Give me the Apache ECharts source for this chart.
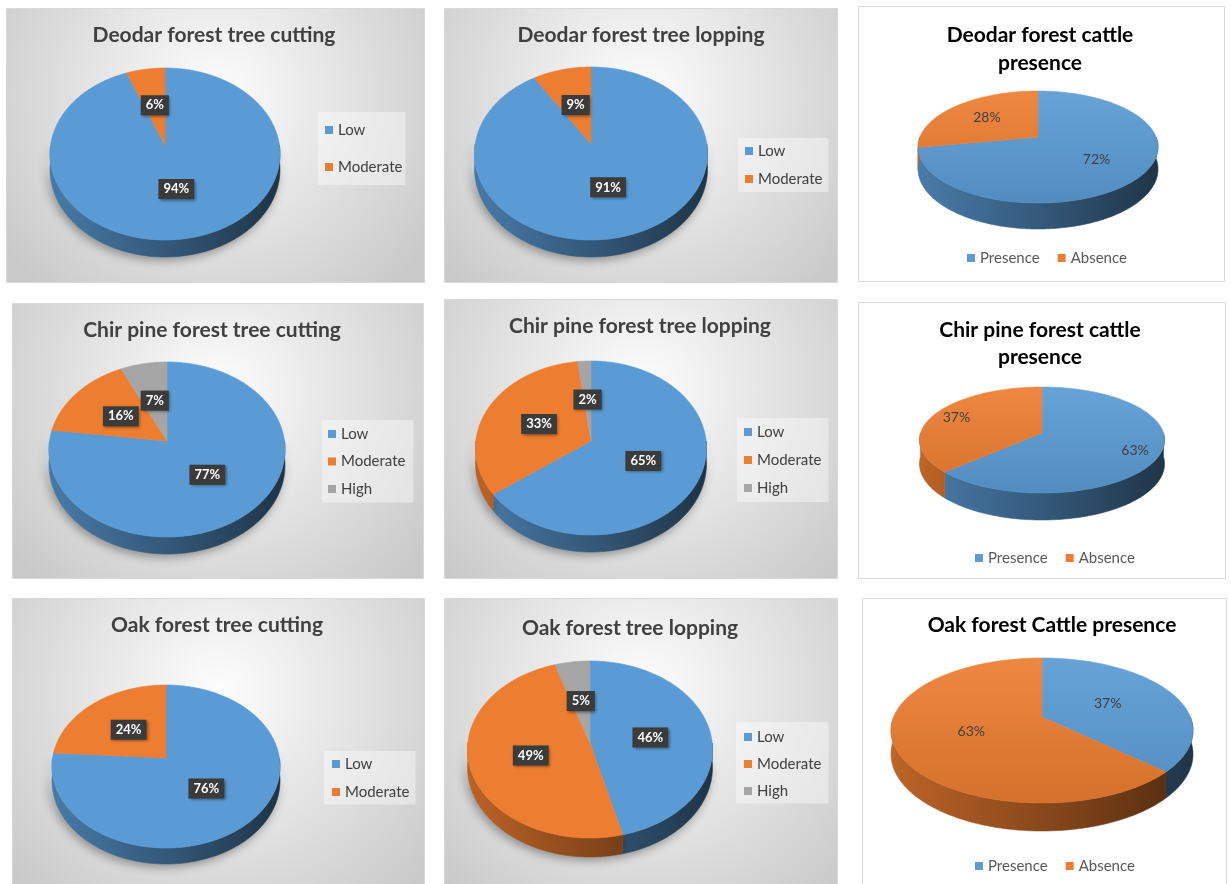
<!DOCTYPE html>
<html>
<head>
<meta charset="utf-8">
<script src="https://cdn.jsdelivr.net/npm/echarts@6/dist/echarts.min.js"></script>
<style>
  html, body { margin: 0; padding: 0; background: #ffffff; }
  #chart { width: 1231px; height: 884px; }
</style>
</head>
<body>
<div id="chart"></div>
<script>
// ---- data ----
const severityLevels = ['Low', 'Moderate', 'High'];
const cattleStatus = ['Presence', 'Absence'];

const deodarCutting = [94, 6];
const deodarLopping = [91, 9];
const deodarCattle = [72, 28];
const chirCutting = [77, 16, 7];
const chirLopping = [65, 33, 2];
const chirCattle = [63, 37];
const oakCutting = [76, 24];
const oakLopping = [46, 49, 5];
const oakCattle = [37, 63];

const chartTitles = [
  'Deodar forest tree cutting', 'Deodar forest tree lopping', 'Deodar forest cattle\npresence',
  'Chir pine forest tree cutting', 'Chir pine forest tree lopping', 'Chir pine forest cattle\npresence',
  'Oak forest tree cutting', 'Oak forest tree lopping', 'Oak forest Cattle presence'
];

// ---- styling ----
const categoryColors = {
  Low: '#5b9bd5', Moderate: '#ed7d31', High: '#a5a5a5',
  Presence: '#5b9bd5', Absence: '#ed7d31'
};
const FONT = 'Lato, "Open Sans", sans-serif';

// ---- layout of the nine panels ----
const panels = [
  { values: deodarCutting, names: severityLevels, shaded: true, box: [6, 8, 418, 274],
    titleX: 214, titleY: 22, lineH: 26,
    pie: { ax: 165, ay: 145, rx: 115, far: 77, near: 95, depth: 17, labelR: 0.5 },
    legend: { left: 318, top: 112, gap: 22, pad: [10.5, 3, 10.5, 7] } },
  { values: deodarLopping, names: severityLevels, shaded: true, box: [444, 8, 393, 274],
    titleX: 641, titleY: 22, lineH: 26,
    pie: { ax: 591, ay: 144, rx: 116.5, far: 77, near: 96, depth: 17, labelR: 0.5 },
    legend: { left: 738, top: 138, gap: 13, pad: [5.5, 6, 5.5, 7] } },
  { values: deodarCattle, names: cattleStatus, shaded: false, box: [858, 6, 366, 275],
    titleX: 1040, titleY: 21, lineH: 28,
    pie: { ax: 1038, ay: 137, rx: 120, far: 46, near: 66, depth: 26, labelR: 0.6 },
    legend: { left: 967, top: 250.5, gap: 18 } },
  { values: chirCutting, names: severityLevels, shaded: true, box: [12, 303, 411, 275],
    titleX: 212, titleY: 317, lineH: 26,
    pie: { ax: 167, ay: 441, rx: 118, far: 79, near: 96, depth: 17, labelR: 0.5 },
    legend: { left: 322, top: 420, gap: 12.5, pad: [6.5, 8, 6, 6] } },
  { values: chirLopping, names: severityLevels, shaded: true, box: [444, 299, 393, 279],
    titleX: 640, titleY: 313, lineH: 26,
    pie: { ax: 591, ay: 441, rx: 115.5, far: 80, near: 94, depth: 17, labelR: 0.5 },
    legend: { left: 737, top: 418, gap: 13, pad: [6.5, 7, 6.5, 7] } },
  { values: chirCattle, names: cattleStatus, shaded: false, box: [858, 302, 367, 276],
    titleX: 1040, titleY: 317, lineH: 27,
    pie: { ax: 1042, ay: 433, rx: 122.5, far: 46, near: 60, depth: 27, labelR: 0.8 },
    legend: { left: 975, top: 550.5, gap: 18 } },
  { values: oakCutting, names: severityLevels, shaded: true, box: [12, 598, 412, 290],
    titleX: 217, titleY: 612, lineH: 26,
    pie: { ax: 166, ay: 758, rx: 114, far: 73, near: 90, depth: 16, labelR: 0.5 },
    legend: { left: 324, top: 751, gap: 13, pad: [5.5, 6, 5, 8] } },
  { values: oakLopping, names: severityLevels, shaded: true, box: [444, 598, 393, 290],
    titleX: 630, titleY: 615, lineH: 26,
    pie: { ax: 590, ay: 743, rx: 122.5, far: 82, near: 95, depth: 19, labelR: 0.5 },
    legend: { left: 736, top: 722, gap: 12, pad: [7.5, 7, 5, 8] } },
  { values: oakCattle, names: cattleStatus, shaded: false, box: [862, 598, 364, 290],
    titleX: 1052, titleY: 612, lineH: 26,
    pie: { ax: 1042, ay: 717, rx: 151, far: 59, near: 86, depth: 28, labelR: 0.5 },
    legend: { left: 975, top: 858.5, gap: 18 } }
];

// ---- helpers ----
function shade(hex, k) {
  const n = parseInt(hex.slice(1), 16);
  const r = Math.round(((n >> 16) & 255) * k);
  const g = Math.round(((n >> 8) & 255) * k);
  const b = Math.round((n & 255) * k);
  return 'rgb(' + r + ',' + g + ',' + b + ')';
}
function lighten(hex, k) {
  const n = parseInt(hex.slice(1), 16);
  const f = c => Math.round(c + (255 - c) * k);
  return 'rgb(' + f((n >> 16) & 255) + ',' + f((n >> 8) & 255) + ',' + f(n & 255) + ')';
}

// Perspective geometry of a tilted disc: far rim is compressed relative to the near rim.
function deriveGeometry(pie) {
  const p = (pie.near - pie.far) / (pie.near + pie.far);
  return Object.assign({}, pie, {
    p: p,
    A: pie.rx * Math.sqrt(1 - p * p),
    B: 2 * pie.far * pie.near / (pie.far + pie.near)
  });
}
function project(g, x, z, drop) {
  const d = 1 + g.p * z;
  return [g.ax + g.A * x / d, g.ay - g.B * z / d + (drop ? g.depth * (1 - g.p) / d : 0)];
}
function rimPoint(g, deg, drop) {
  const t = deg * Math.PI / 180;
  return project(g, Math.sin(t), Math.cos(t), drop);
}
function arcPoints(g, a0, a1, drop) {
  const pts = [];
  const steps = Math.max(2, Math.ceil((a1 - a0) / 1));
  for (let k = 0; k <= steps; k++) pts.push(rimPoint(g, a0 + (a1 - a0) * k / steps, drop));
  return pts;
}

function renderSlice(api, g, panel, name) {
  const v = api.value(0), start = api.value(1), total = api.value(2);
  const a0 = start / total * 360;
  const a1 = (start + v) / total * 360;
  const base = categoryColors[name];
  const children = [];

  // outer side wall, only the front half faces the viewer
  const w0 = Math.max(a0, 90), w1 = Math.min(a1, 270);
  if (w1 > w0) {
    const top = arcPoints(g, w0, w1, false);
    const bottom = arcPoints(g, w0, w1, true).reverse();
    const wallFill = {
      type: 'linear', global: true,
      x: g.ax - g.rx, y: 0, x2: g.ax + g.rx, y2: 0,
      colorStops: [
        { offset: 0, color: shade(base, 0.8) },
        { offset: 0.45, color: shade(base, 0.6) },
        { offset: 1, color: shade(base, 0.34) }
      ]
    };
    children.push({
      type: 'polygon', z2: 1,
      shape: { points: top.concat(bottom) },
      style: Object.assign({ fill: wallFill, stroke: wallFill, lineWidth: 0.6 },
        panel.shaded ? { shadowBlur: 10, shadowColor: 'rgba(0,0,0,0.35)', shadowOffsetX: -2, shadowOffsetY: 3 } : {})
    });
  }

  // top face of the slice
  const apex = project(g, 0, 0, false);
  const topFill = panel.shaded ? base : {
    type: 'linear', global: true,
    x: 0, y: g.ay - g.far, x2: 0, y2: g.ay + g.near,
    colorStops: [
      { offset: 0, color: lighten(base, 0.08) },
      { offset: 1, color: shade(base, 0.9) }
    ]
  };
  children.push({
    type: 'polygon', z2: 10,
    shape: { points: [apex].concat(arcPoints(g, a0, a1, false)) },
    style: { fill: topFill, stroke: topFill, lineWidth: 0.6 }
  });

  // percentage label
  const mid = (a0 + a1) / 2 * Math.PI / 180;
  const lp = project(g, g.labelR * Math.sin(mid), g.labelR * Math.cos(mid), false);
  const labelStyle = panel.shaded ? {
    text: v + '%', fill: '#ffffff', fontFamily: FONT, fontSize: 13, fontWeight: 'bold',
    align: 'center', verticalAlign: 'middle',
    backgroundColor: '#3b3b3b', padding: [4, 5, 3, 5],
    shadowBlur: 3, shadowColor: 'rgba(0,0,0,0.45)', shadowOffsetX: 1.5, shadowOffsetY: 1.5
  } : {
    text: v + '%', fill: '#404040', fontFamily: FONT, fontSize: 14,
    align: 'center', verticalAlign: 'middle'
  };
  children.push({ type: 'text', z2: 20, x: lp[0], y: lp[1], style: labelStyle });

  return { type: 'group', children: children };
}

// ---- assemble option ----
const series = [];
const legends = [];
const titleList = [];
const backgrounds = [];

panels.forEach((panel, pi) => {
  const g = deriveGeometry(panel.pie);
  const names = panel.names.slice(0, panel.values.length);
  const total = panel.values.reduce((a, b) => a + b, 0);
  let cum = 0;
  panel.values.forEach((v, i) => {
    const name = names[i];
    series.push({
      type: 'custom',
      name: name,
      coordinateSystem: 'none',
      silent: true,
      itemStyle: { color: categoryColors[name] },
      data: [[v, cum, total]],
      renderItem: (params, api) => renderSlice(api, g, panel, name)
    });
    cum += v;
  });

  const [bx, by, bw, bh] = panel.box;
  backgrounds.push({
    type: 'rect', z: -10, silent: true,
    shape: { x: bx + 0.5, y: by + 0.5, width: bw, height: bh },
    style: {
      fill: panel.shaded ? {
        type: 'radial', x: 0.5, y: 0.32, r: 0.95,
        colorStops: [{ offset: 0, color: '#fdfdfd' }, { offset: 1, color: '#c9c9c9' }]
      } : '#ffffff',
      stroke: '#d9d9d9', lineWidth: 1
    }
  });

  titleList.push({
    text: chartTitles[pi],
    left: panel.titleX, top: panel.titleY, textAlign: 'center', padding: 0,
    textStyle: {
      fontFamily: FONT, fontSize: 21, fontWeight: 'bold',
      color: panel.shaded ? '#404040' : '#000000', lineHeight: panel.lineH
    }
  });

  const lg = panel.legend;
  legends.push(panel.shaded ? {
    orient: 'vertical', left: lg.left, top: lg.top, itemGap: lg.gap, padding: lg.pad,
    icon: 'rect', itemWidth: 8, itemHeight: 8, selectedMode: false,
    backgroundColor: 'rgba(255,255,255,0.4)',
    data: names,
    textStyle: { fontFamily: FONT, fontSize: 15, color: '#404040' }
  } : {
    orient: 'horizontal', left: lg.left, top: lg.top, itemGap: lg.gap, padding: 0,
    icon: 'rect', itemWidth: 8, itemHeight: 8, selectedMode: false,
    data: names,
    textStyle: { fontFamily: FONT, fontSize: 15, color: '#595959' }
  });
});

const chart = echarts.init(document.getElementById('chart'), null, { renderer: 'canvas' });
chart.setOption({
  animation: false,
  backgroundColor: '#ffffff',
  graphic: { elements: backgrounds },
  title: titleList,
  legend: legends,
  series: series
});
</script>
</body>
</html>
